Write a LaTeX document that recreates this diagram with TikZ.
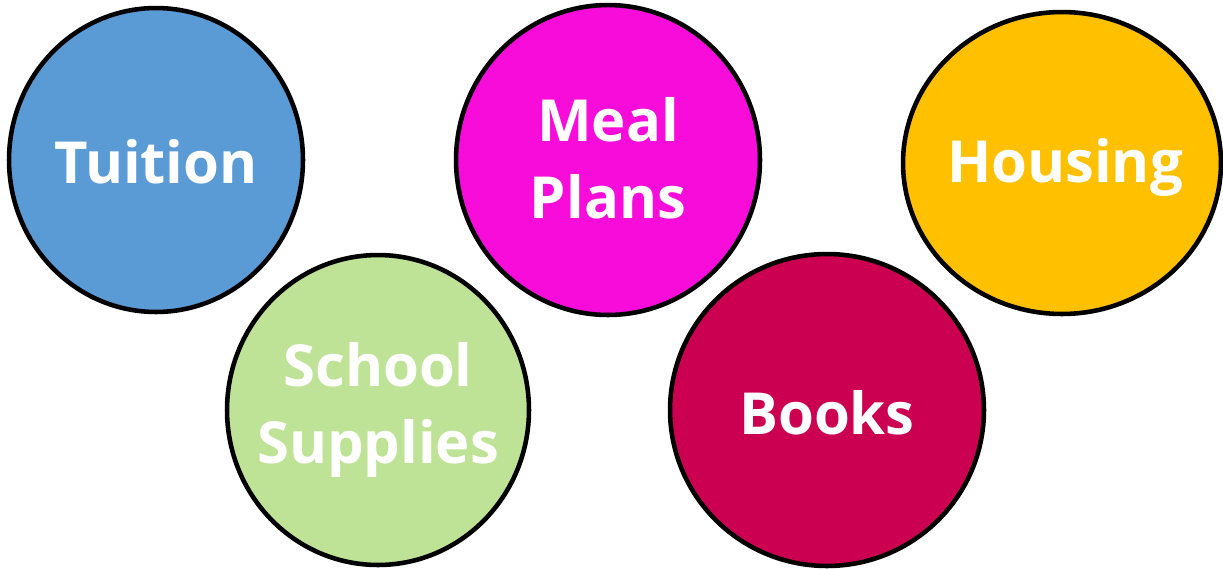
\documentclass[tikz,border=0pt]{standalone}
\usepackage{fontspec}
\setmainfont{Open Sans}
\usetikzlibrary{shapes.geometric}
\definecolor{tuitionblue}{HTML}{5B9BD5}
\definecolor{mealpink}{HTML}{F70CDA}
\definecolor{housinggold}{HTML}{FFC000}
\definecolor{suppliesgreen}{HTML}{BFE396}
\definecolor{bookred}{HTML}{CC0050}
\begin{document}
\begin{tikzpicture}[x=0.02cm, y=-0.02cm,
		bubble/.style={ellipse, draw=black, line width=2.6pt, inner sep=0pt},
		word/.style={text=white, font=\fontsize{33}{44}\selectfont\bfseries, align=center}]
			\useasboundingbox (0,0) rectangle (1223,569);
			
			\node[bubble, fill=tuitionblue, minimum width=5.88cm, minimum height=6.08cm] (tuition) at (156,160) {};
			\node[bubble, fill=mealpink, minimum width=6.08cm, minimum height=6.2cm] (meal) at (608,160) {};
			\node[bubble, fill=housinggold, minimum width=6.36cm, minimum height=6.04cm] (housing) at (1062,163) {};
			\node[bubble, fill=suppliesgreen, minimum width=6.04cm, minimum height=6.2cm] (supplies) at (378,410) {};
			\node[bubble, fill=bookred, minimum width=6.28cm, minimum height=6.24cm] (books) at (827,410) {};
			
			\node[word] (tuitiontext) at ([yshift=-0.04cm]tuition.center) {Tuition};
			\node[word] (mealtext) at ([yshift=0.04cm]meal.center) {Meal\\Plans};
			\node[word] (housingtext) at ([xshift=0.06cm, yshift=-0.08cm]housing.center) {Housing};
			\node[word] (suppliestext) at (supplies.center) {School\\Supplies};
			\node[word] (bookstext) at ([yshift=-0.06cm]books.center) {Books};
		
		\end{tikzpicture}
\end{document}
